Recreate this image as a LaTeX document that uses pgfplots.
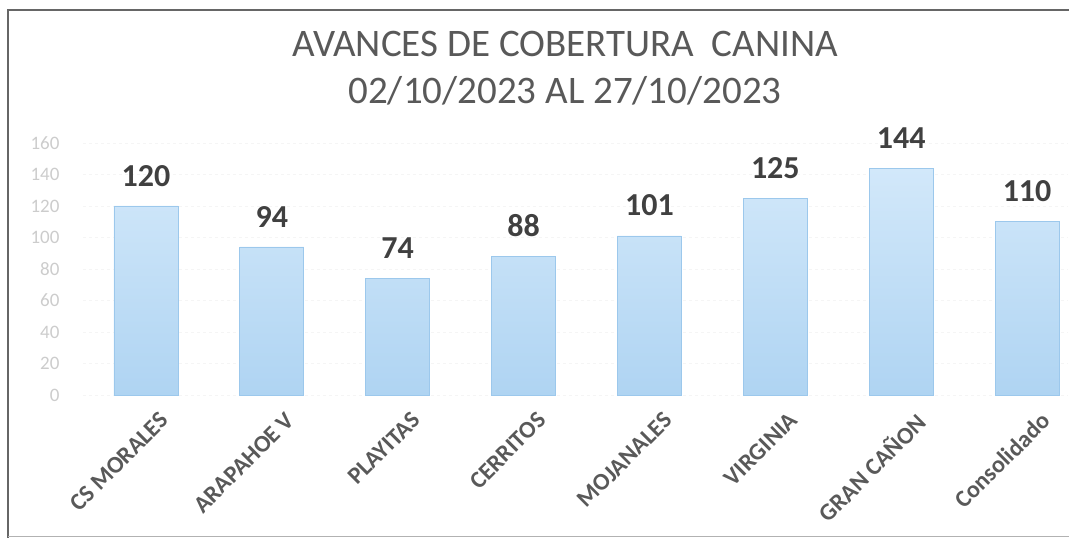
\documentclass[border=0pt]{standalone}
\usepackage{pgfplots}
\pgfplotsset{compat=1.18}
\usepackage{fontspec}
\setmainfont{Carlito}
\definecolor{titlegray}{HTML}{595959}
\definecolor{labgray}{HTML}{404040}
\definecolor{tickgray}{HTML}{CCCCCC}
\definecolor{bartop}{HTML}{D2E8FA}
\definecolor{barbot}{HTML}{AFD4F2}
\definecolor{baredge}{HTML}{9CC8EC}
\begin{document}
\begin{tikzpicture}
\path[use as bounding box] (0pt,0pt) rectangle (1069pt,540pt);
\draw[gray!80!black, line width=1.5pt] (8pt,2pt) -- (8pt,530pt) -- (1069pt,530pt);
\draw[gray!60, line width=1pt] (8pt,3pt) -- (1069pt,3pt);
\node[font=\fontsize{39}{47}\selectfont, text=titlegray, align=center] at (565pt,472pt)
  {AVANCES DE COBERTURA\ \ CANINA\\02/10/2023 AL 27/10/2023};
\begin{axis}[
  at={(83pt,145pt)}, anchor=south west,
  scale only axis, width=985pt, height=252pt,
  xmin=-0.5, xmax=7.325, ymin=0, ymax=160,
  clip=false,
  axis line style={draw=none},
  major tick length=0pt,
  ymajorgrids, grid style={gray!8, dashed},
  ytick={0,20,...,160},
  yticklabel style={font=\fontsize{19}{21}\selectfont, text=tickgray, anchor=east, xshift=-20pt},
  /pgf/number format/assume math mode=true,
  xtick=data,
  xticklabels={CS MORALES, ARAPAHOE V, PLAYITAS, CERRITOS, MOJANALES, VIRGINIA, GRAN CAÑON, Consolidado},
  xticklabel style={font=\fontsize{24}{26}\selectfont\bfseries, text=titlegray, rotate=45, anchor=north east, inner sep=0pt, yshift=-20pt, xshift=-2pt},
  ybar, bar width=64pt,
  nodes near coords,
  every node near coord/.append style={font=\fontsize{32}{34}\selectfont\bfseries, text=labgray, yshift=16pt},
]
\addplot[draw=baredge, top color=bartop, bottom color=barbot, line width=0.8pt] coordinates {
  (0,120) (1,94) (2,74) (3,88) (4,101) (5,125) (6,144) (7,110)
};
\end{axis}
\end{tikzpicture}
\end{document}
